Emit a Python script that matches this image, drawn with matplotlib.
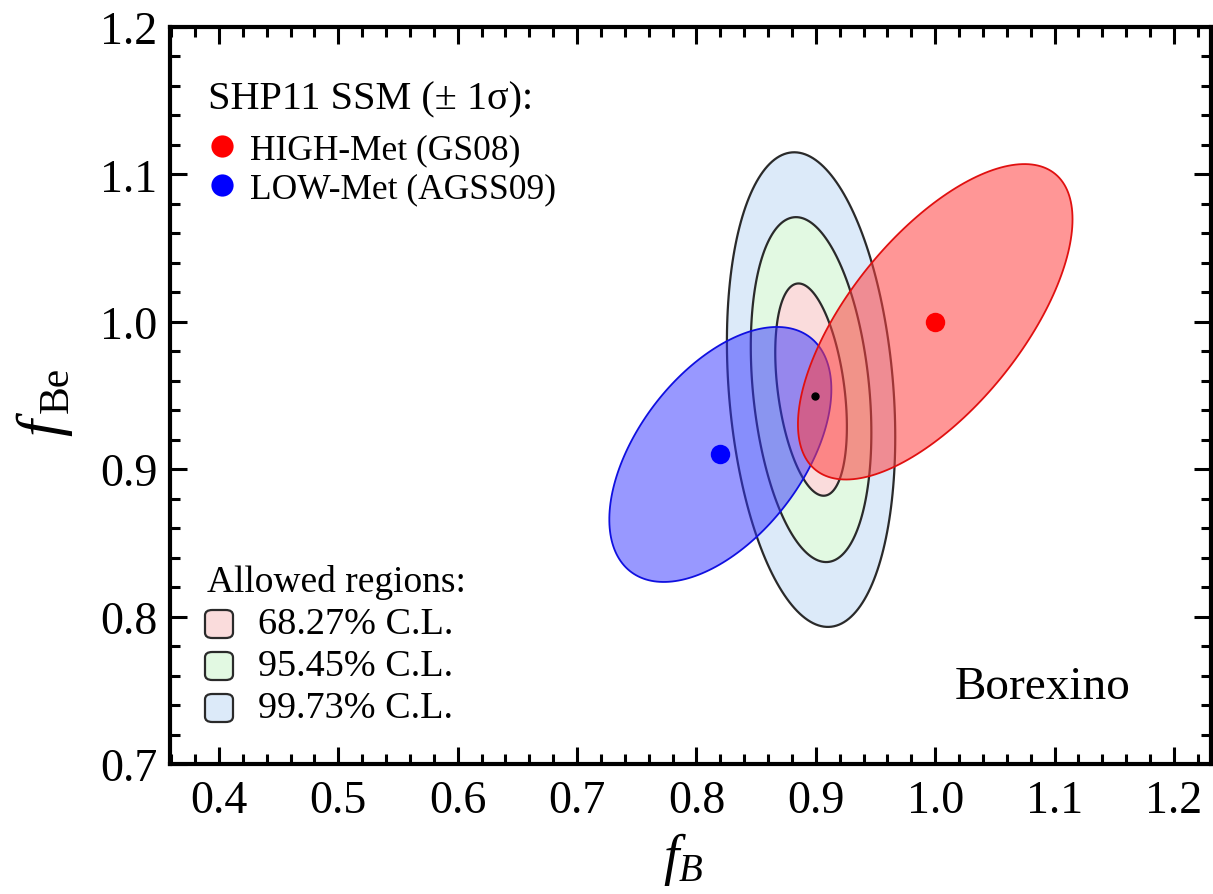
import numpy as np
import matplotlib
matplotlib.use("Agg")
import matplotlib.pyplot as plt
from matplotlib.patches import Polygon, FancyBboxPatch
from matplotlib.ticker import MultipleLocator, FormatStrFormatter
from matplotlib.lines import Line2D

plt.rcParams['font.family'] = ['Liberation Serif', 'DejaVu Serif']
plt.rcParams['mathtext.fontset'] = 'custom'
plt.rcParams['mathtext.rm'] = 'Liberation Serif'
plt.rcParams['mathtext.it'] = 'Liberation Serif:italic'

# ---- data ----
# Borexino best fit and allowed-region contours (half-extents and correlation)
bx_best = (0.899, 0.950)
cl_center = (0.896, 0.954)
cl_labels = ["68.27% C.L.", "95.45% C.L.", "99.73% C.L."]
cl_half_x = [0.030, 0.0505, 0.0705]
cl_half_y = [0.072, 0.117, 0.161]
cl_rho = [-0.35, -0.25, -0.2]
cl_colors = ["#fadcdc", "#e2f9e2", "#dceaf9"]

# SHP11 SSM predictions (+/- 1 sigma ellipses)
ssm_labels = ["HIGH-Met (GS08)", "LOW-Met (AGSS09)"]
ssm_center_x = [1.00, 0.82]
ssm_center_y = [1.00, 0.91]
ssm_sig_x = [0.115, 0.093]
ssm_sig_y = [0.107, 0.0865]
ssm_rho = [0.65, 0.51]
ssm_colors = ["#e01010", "#1010e0"]
ssm_dot = ["red", "blue"]
ssm_face = [(1.0, 0.25, 0.25, 0.55), (0.2, 0.2, 1.0, 0.5)]

xticks = [0.4, 0.5, 0.6, 0.7, 0.8, 0.9, 1.0, 1.1, 1.2]
yticks = [0.7, 0.8, 0.9, 1.0, 1.1, 1.2]


def ellipse_pts(cx, cy, a, b, rho, n=200):
    t = np.linspace(0, 2 * np.pi, n)
    x = cx + a * np.cos(t)
    y = cy + b * (rho * np.cos(t) + np.sqrt(1 - rho ** 2) * np.sin(t))
    return np.column_stack([x, y])


W, H = 1213, 895
fig = plt.figure(figsize=(W / 100, H / 100), dpi=100)
ax = fig.add_axes([170 / W, 1 - 765 / H, (1211 - 170) / W, (765 - 28) / H])
ax.set_xlim(0.359, 1.231)
ax.set_ylim(0.7, 1.2)

# contours, outermost first
for i in reversed(range(3)):
    pts = ellipse_pts(cl_center[0], cl_center[1], cl_half_x[i], cl_half_y[i], cl_rho[i])
    ax.add_patch(Polygon(pts, closed=True, facecolor=cl_colors[i],
                         edgecolor="#2a2a2a", lw=1.6, zorder=1 + (2 - i) * 0.1))

# SSM ellipses
for i in [1, 0]:
    pts = ellipse_pts(ssm_center_x[i], ssm_center_y[i], ssm_sig_x[i], ssm_sig_y[i], ssm_rho[i])
    ax.add_patch(Polygon(pts, closed=True, facecolor=ssm_face[i],
                         edgecolor=ssm_colors[i], lw=1.3, zorder=3))
for i in range(2):
    ax.plot(ssm_center_x[i], ssm_center_y[i], 'o', color=ssm_dot[i],
            ms=14, mec='none', zorder=5)
ax.plot(bx_best[0], bx_best[1], 'o', color='black', ms=5, zorder=6)

# axes styling
ax.xaxis.set_major_locator(plt.FixedLocator(xticks))
ax.yaxis.set_major_locator(plt.FixedLocator(yticks))
ax.xaxis.set_minor_locator(MultipleLocator(0.02))
ax.yaxis.set_minor_locator(MultipleLocator(0.02))
ax.xaxis.set_major_formatter(FormatStrFormatter('%.1f'))
ax.yaxis.set_major_formatter(FormatStrFormatter('%.1f'))
ax.tick_params(which='both', direction='in', top=True, right=True, width=2.2,
               labelsize=33, color='black')
ax.tick_params(axis='x', which='major', length=12, pad=11)
ax.tick_params(axis='y', which='major', length=12, pad=9)
ax.tick_params(which='minor', length=7)
for s in ax.spines.values():
    s.set_linewidth(3)


def fx(px):
    return px / W


def fy(py):
    return 1 - py / H


# axis labels
fig.text(fx(683), fy(874), r"$f_{B}$", fontsize=40, ha='center', va='baseline')
fig.text(fx(59), fy(436), "f", fontsize=44, style='italic', rotation=90,
         rotation_mode='anchor', ha='left', va='baseline')
fig.text(fx(68), fy(413), "Be", fontsize=30, rotation=90,
         rotation_mode='anchor', ha='left', va='baseline')

fig.text(fx(955), fy(699), "Borexino", fontsize=34, ha='left', va='baseline')

fig.text(fx(208), fy(109), "SHP11 SSM (\u00b1 1\u03c3):", fontsize=29, ha='left', va='baseline')
leg_y = [147, 186]
for i in range(2):
    fig.add_artist(Line2D([fx(222)], [fy(leg_y[i])], marker='o', ms=16,
                          color=ssm_dot[i], mec='none', transform=fig.transFigure))
    fig.text(fx(250), fy(leg_y[i] + 12), ssm_labels[i], fontsize=25.5, ha='left', va='baseline')

fig.text(fx(207), fy(592), "Allowed regions:", fontsize=27, ha='left', va='baseline')
row_y = [625, 667, 709]
for i in range(3):
    box = FancyBboxPatch((fx(205), fy(row_y[i] + 14)), 28 / W, 28 / H,
                         boxstyle="round,pad=0,rounding_size=0.006",
                         transform=fig.transFigure, facecolor=cl_colors[i],
                         edgecolor="#2a2a2a", lw=1.6)
    fig.add_artist(box)
    fig.text(fx(258), fy(row_y[i] + 9), cl_labels[i], fontsize=27.5, ha='left', va='baseline')

fig.savefig("out.png", dpi=100)
